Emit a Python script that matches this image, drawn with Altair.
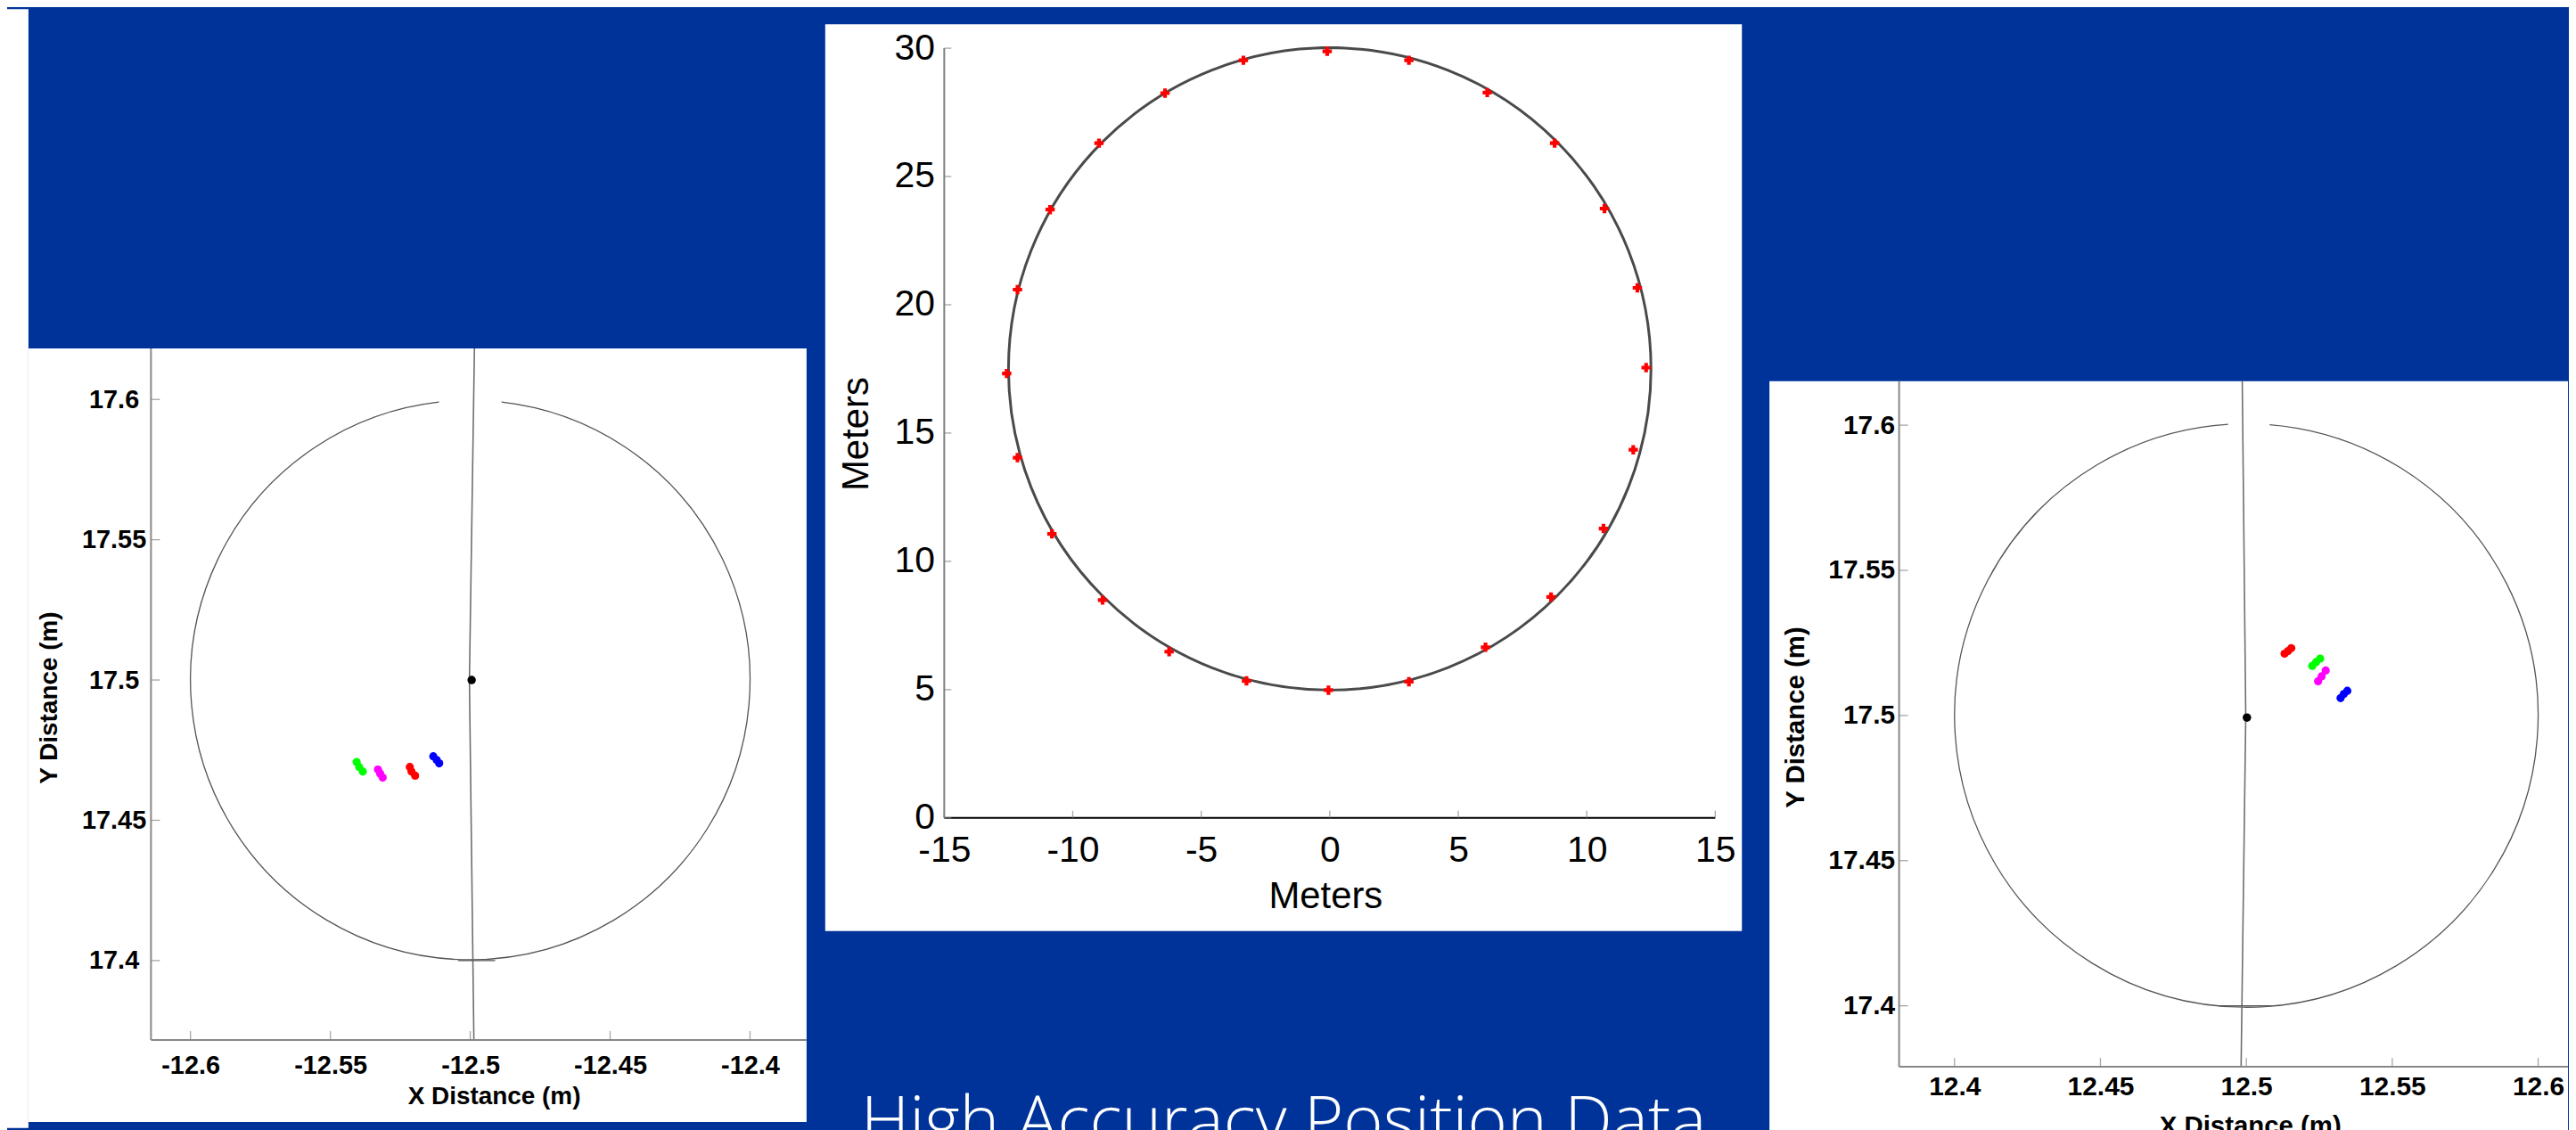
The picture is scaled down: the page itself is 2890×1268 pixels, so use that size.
import altair as alt
import pandas as pd

BLUE = "#003399"
TAU = 6.2832

# ---------------- left panel (station near -12.5, 17.5) ----------------
L_XTICKS = [-12.6, -12.55, -12.5, -12.45, -12.4]
L_YTICKS = [17.4, 17.45, 17.5, 17.55, 17.6]
L_XDOMAIN = [-12.6579, -12.3798]
L_YDOMAIN = [17.3425, 17.6182]
L_AXIS_X = -12.6141
L_AXIS_Y = 17.3717
L_CENTER_X = [-12.5]
L_CENTER_Y = [17.5]
L_RADIUS = [0.1]
L_ARC = [0.112, 6.171]
L_VLINE_X = [-12.4985, -12.5003, -12.4987]
L_VLINE_Y = [17.6182, 17.50, 17.3717]
L_FLAT_X = [-12.5043, -12.4911]
L_FLAT_Y = [17.4]
L_DOT_X = [-12.4995]
L_DOT_Y = [17.5]
L_SERIES = ["green", "magenta", "red", "blue"]
L_PTS_X = [[-12.5406, -12.5397, -12.5384],
           [-12.5330, -12.5322, -12.5313],
           [-12.5216, -12.5210, -12.5197],
           [-12.5132, -12.5120, -12.5111]]
L_PTS_Y = [[17.4708, 17.4690, 17.4674],
           [17.4681, 17.4667, 17.4652],
           [17.4690, 17.4674, 17.4659],
           [17.4728, 17.4715, 17.4703]]

# ---------------- right panel (station near 12.5, 17.5) ----------------
R_XTICKS = [12.4, 12.45, 12.5, 12.55, 12.6]
R_YTICKS = [17.4, 17.45, 17.5, 17.55, 17.6]
R_XDOMAIN = [12.33656, 12.61023]
R_YDOMAIN = [17.35665, 17.61514]
R_AXIS_X = 12.3810
R_AXIS_Y = 17.37898
R_CENTER_X = [12.5]
R_CENTER_Y = [17.5]
R_RADIUS = [0.1]
R_ARC = [0.080, 6.221]
R_VLINE_X = [12.4986, 12.4998, 12.4982]
R_VLINE_Y = [17.61514, 17.50, 17.37898]
R_FLAT_X = [12.4904, 12.5090]
R_FLAT_Y = [17.4]
R_DOT_X = [12.5002]
R_DOT_Y = [17.4993]
R_SERIES = ["red", "green", "magenta", "blue"]
R_PTS_X = [[12.5131, 12.5143, 12.5154],
           [12.5226, 12.5239, 12.5253],
           [12.5246, 12.5258, 12.5272],
           [12.5323, 12.5334, 12.5346]]
R_PTS_Y = [[17.5213, 17.5222, 17.5232],
           [17.5171, 17.5184, 17.5196],
           [17.5118, 17.5135, 17.5155],
           [17.5060, 17.5074, 17.5085]]

# ---------------- middle panel (track of positions) ----------------
M_XTICKS = [-15, -10, -5, 0, 5, 10, 15]
M_YTICKS = [0, 5, 10, 15, 20, 25, 30]
M_XDOMAIN = [-19.6313, 16.0369]
M_YDOMAIN = [-4.4064, 30.9346]
M_AXIS_X = -15
M_AXIS_Y = 0
M_XEND = 15
M_YEND = 30
M_CENTER_X = [0]
M_CENTER_Y = [17.5]
M_RADIUS = [12.5]
M_PTS_X = [-0.1, 3.08, 6.13, 8.75, 10.69, 11.97, 12.31, 11.81, 10.65, 8.61, 6.06, 3.08,
           -0.05, -3.24, -6.25, -8.84, -10.81, -12.15, -12.57, -12.15, -10.88, -8.98, -6.41, -3.36]
M_PTS_Y = [29.88, 29.53, 28.27, 26.30, 23.75, 20.66, 17.55, 14.35, 11.28, 8.61, 6.65, 5.31,
           4.98, 5.34, 6.48, 8.49, 11.07, 14.04, 17.32, 20.59, 23.71, 26.30, 28.25, 29.53]

TITLE_TEXT = "High Accuracy Position Data"

SERIES_COLORS = {"green": "#00ff00", "magenta": "#ff00ff", "red": "#ff0000", "blue": "#0000ff"}


def view_bg(fill):
    return alt.ViewBackground(fill=fill, stroke="transparent", strokeWidth=0)


def x_axis(values, offset, pad, title, tx, ty, font, size, weight, tsize):
    return alt.Axis(values=values, labelExpr="'' + datum.value", offset=offset,
                    domain=False, ticks=False, tickSize=0, grid=False,
                    labelPadding=pad, labelFont=font, labelFontSize=size,
                    labelFontWeight=weight, labelColor="black", labelFlush=False,
                    labelOverlap=False, labelAlign="center", labelBaseline="top",
                    title=title, titleFont=font, titleFontSize=tsize,
                    titleFontWeight=weight, titleColor="black", titleX=tx, titleY=ty,
                    titleBaseline="top", titleAlign="center", titleAngle=0, zindex=1)


def y_axis(values, offset, pad, align, title, tx, ty, font, size, weight, tsize):
    return alt.Axis(values=values, labelExpr="'' + datum.value", offset=offset,
                    domain=False, ticks=False, tickSize=0, grid=False,
                    labelPadding=pad, labelFont=font, labelFontSize=size,
                    labelFontWeight=weight, labelColor="black", labelFlush=False,
                    labelOverlap=False, labelAlign=align, labelBaseline="middle",
                    title=title, titleFont=font, titleFontSize=tsize,
                    titleFontWeight=weight, titleColor="black", titleX=tx, titleY=ty,
                    titleBaseline="middle", titleAlign="center", titleAngle=270, zindex=1)


def frame_layers(X, Y, axis_x, axis_y, xend, yend, xticks, yticks, xcol, ycol, tick_len):
    xline = pd.DataFrame({"x": [axis_x], "x2": [xend], "y": [axis_y]})
    yline = pd.DataFrame({"x": [axis_x], "y": [axis_y], "y2": [yend]})
    tx = pd.DataFrame({"x": xticks, "y": [axis_y] * len(xticks)})
    ty = pd.DataFrame({"x": [axis_x] * len(yticks), "y": yticks})
    return [
        alt.Chart(xline).mark_rule(color=xcol, strokeWidth=2).encode(x=X, x2=alt.X2("x2:Q"), y=Y),
        alt.Chart(yline).mark_rule(color=ycol, strokeWidth=2).encode(x=X, y=Y, y2=alt.Y2("y2:Q")),
        alt.Chart(tx).mark_tick(orient="vertical", size=tick_len, thickness=1.3,
                                yOffset=-tick_len / 2, color="#808080").encode(x=X, y=Y),
        alt.Chart(ty).mark_tick(orient="horizontal", size=tick_len, thickness=1.3,
                                xOffset=tick_len / 2, color="#808080").encode(x=X, y=Y),
    ]


def zoom_panel(W, H, xdom, ydom, axis_x, axis_y, xticks, yticks, cx, cy, rad, arc,
               vx, vy, fx, fy, dx, dy, series, px, py, ax):
    X = alt.X("x:Q", scale=alt.Scale(domain=xdom, nice=False, zero=False),
              axis=x_axis(xticks, ax["xoff"], ax["xpad"], "X Distance (m)", ax["xtx"], ax["xty"],
                          "Liberation Sans", ax["lsize"], "bold", ax["tsize"]))
    Y = alt.Y("y:Q", scale=alt.Scale(domain=ydom, nice=False, zero=False),
              axis=y_axis(yticks, ax["yoff"], ax["ypad"], ax["yalign"], "Y Distance (m)",
                          ax["ytx"], ax["yty"], "Liberation Sans", ax["lsize"], "bold", ax["tsize"]))
    arc_df = pd.DataFrame({"x": cx, "y": cy, "r": rad})
    circle = alt.Chart(arc_df).mark_arc(filled=False, stroke="#555555", strokeWidth=1.3,
                                        theta=arc[0], theta2=arc[1]).encode(
        x=X, y=Y,
        radius=alt.Radius("r:Q", scale=alt.Scale(type="linear", domain=[0, xdom[1] - xdom[0]],
                                                 range=[0, W])),
        radius2=alt.Radius2("r:Q"))
    vline = alt.Chart(pd.DataFrame({"x": vx, "y": vy, "i": list(range(len(vx)))})).mark_line(
        color="#6e6e6e", strokeWidth=1.6).encode(x=X, y=Y, order="i:Q")
    flat = alt.Chart(pd.DataFrame({"x": [fx[0]], "x2": [fx[1]], "y": fy})).mark_rule(
        color="#555555", strokeWidth=1.3).encode(x=X, x2=alt.X2("x2:Q"), y=Y)
    rows = []
    for s, xs, ys in zip(series, px, py):
        for a, b in zip(xs, ys):
            rows.append({"x": a, "y": b, "series": s})
    pts = alt.Chart(pd.DataFrame(rows)).mark_point(filled=True, size=85, opacity=1).encode(
        x=X, y=Y,
        color=alt.Color("series:N", scale=alt.Scale(domain=series,
                                                     range=[SERIES_COLORS[s] for s in series]),
                        legend=None))
    dot = alt.Chart(pd.DataFrame({"x": dx, "y": dy})).mark_point(
        filled=True, size=90, opacity=1, color="black").encode(x=X, y=Y)
    frame = frame_layers(X, Y, axis_x, axis_y, xdom[1], ydom[1], xticks, yticks,
                         "#888888", "#888888", 10)
    return alt.layer(circle, vline, flat, *frame, pts, dot).properties(
        width=W, height=H, view=view_bg("white"))


def spacer(w, h, fill):
    # invisible point placed well inside the spacer so it never widens the layout bounds
    return alt.Chart(pd.DataFrame({"x": [0]})).mark_point(opacity=0, size=1).encode(
        x=alt.value(w / 2), y=alt.value(h / 2)).properties(
        width=w, height=h, view=view_bg(fill))


left = zoom_panel(876, 871, L_XDOMAIN, L_YDOMAIN, L_AXIS_X, L_AXIS_Y, L_XTICKS, L_YTICKS,
                  L_CENTER_X, L_CENTER_Y, L_RADIUS, L_ARC, L_VLINE_X, L_VLINE_Y,
                  L_FLAT_X, L_FLAT_Y, L_DOT_X, L_DOT_Y, L_SERIES, L_PTS_X, L_PTS_Y,
                  {"xoff": -92, "xpad": 14, "xtx": 524, "xty": 50,
                   "yoff": -138, "ypad": 42, "yalign": "center", "ytx": -114, "yty": 393,
                   "lsize": 29, "tsize": 28})

right = zoom_panel(899, 845, R_XDOMAIN, R_YDOMAIN, R_AXIS_X, R_AXIS_Y, R_XTICKS, R_YTICKS,
                   R_CENTER_X, R_CENTER_Y, R_RADIUS, R_ARC, R_VLINE_X, R_VLINE_Y,
                   R_FLAT_X, R_FLAT_Y, R_DOT_X, R_DOT_Y, R_SERIES, R_PTS_X, R_PTS_Y,
                   {"xoff": -73, "xpad": 7, "xtx": 541, "xty": 53,
                    "yoff": -146, "ypad": 5, "yalign": "right", "ytx": -116, "yty": 378,
                    "lsize": 30, "tsize": 29.5})

# middle panel
MW, MH = 1032, 1021
MX = alt.X("x:Q", scale=alt.Scale(domain=M_XDOMAIN, nice=False, zero=False),
           axis=x_axis(M_XTICKS, -127.3, 17, "Meters", 563, 68, "Liberation Sans", 41, "normal", 42))
MY = alt.Y("y:Q", scale=alt.Scale(domain=M_YDOMAIN, nice=False, zero=False),
           axis=y_axis(M_YTICKS, -134, 11, "right", "Meters", -99, 461,
                       "Liberation Sans", 41, "normal", 42))
m_circle = alt.Chart(pd.DataFrame({"x": M_CENTER_X, "y": M_CENTER_Y, "r": M_RADIUS})).mark_arc(
    filled=False, stroke="#4a4a4a", strokeWidth=3, theta=0, theta2=TAU).encode(
    x=MX, y=MY,
    radius=alt.Radius("r:Q", scale=alt.Scale(type="linear", domain=[0, M_XDOMAIN[1] - M_XDOMAIN[0]],
                                             range=[0, MW])),
    radius2=alt.Radius2("r:Q"))
m_pts = alt.Chart(pd.DataFrame({"x": M_PTS_X, "y": M_PTS_Y})).mark_point(
    shape="cross", filled=True, size=110, color="#ff0000", opacity=1).encode(x=MX, y=MY)
m_frame = frame_layers(MX, MY, M_AXIS_X, M_AXIS_Y, M_XEND, M_YEND, M_XTICKS, M_YTICKS,
                       "black", "#808080", 8)
middle = alt.layer(m_circle, *m_frame, m_pts).properties(
    width=MW, height=MH, view=view_bg("white"),
    title=alt.TitleParams(TITLE_TEXT, orient="bottom", anchor="middle", offset=180,
                          baseline="top", color="white", font="Open Sans",
                          fontSize=76, fontWeight=300))

strip = spacer(24, 1260, "white")
left_col = alt.vconcat(spacer(10, 378, "transparent"), left, spacing=0)
mid_col = alt.vconcat(spacer(10, 17, "transparent"), middle, spacing=0)
right_col = alt.vconcat(spacer(10, 415, "transparent"), right, spacing=0)

chart = alt.hconcat(
    alt.hconcat(alt.hconcat(strip, left_col, spacing=0), mid_col, spacing=20),
    right_col, spacing=31,
).properties(background=BLUE, padding={"left": 0, "top": 0, "right": 0, "bottom": 0})

chart.save("out.html", embed_options={"renderer": "svg", "actions": False})
